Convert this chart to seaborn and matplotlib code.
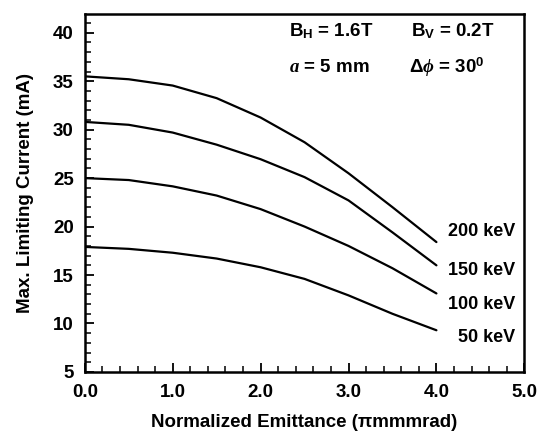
import numpy as np
import pandas as pd
import matplotlib
matplotlib.use("Agg")
import matplotlib.pyplot as plt
from matplotlib.ticker import MultipleLocator, FormatStrFormatter
import seaborn as sns

# ---- data ----
emittance = [0.0, 0.5, 1.0, 1.5, 2.0, 2.5, 3.0, 3.5, 4.0]
current_200keV = [35.5, 35.2, 34.55, 33.25, 31.25, 28.7, 25.5, 22.0, 18.4]
current_150keV = [30.8, 30.5, 29.7, 28.45, 26.95, 25.1, 22.7, 19.4, 16.0]
current_100keV = [25.0, 24.8, 24.15, 23.2, 21.8, 20.0, 18.0, 15.7, 13.1]
current_50keV = [17.9, 17.7, 17.3, 16.7, 15.8, 14.6, 12.9, 11.0, 9.3]
energy_labels = ["200 keV", "150 keV", "100 keV", "50 keV"]
x_ticks = [0.0, 1.0, 2.0, 3.0, 4.0, 5.0]
y_ticks = [5, 10, 15, 20, 25, 30, 35, 40]

series = [current_200keV, current_150keV, current_100keV, current_50keV]
df = pd.concat(
    [pd.DataFrame({"x": emittance, "y": s, "E": lab}) for s, lab in zip(series, energy_labels)],
    ignore_index=True,
)

sns.set_theme(style="ticks")
plt.rcParams["font.family"] = ["Liberation Sans", "DejaVu Sans"]
plt.rcParams["text.color"] = "black"
plt.rcParams["axes.labelcolor"] = "black"
plt.rcParams["xtick.color"] = "black"
plt.rcParams["ytick.color"] = "black"
plt.rcParams["mathtext.fontset"] = "custom"
plt.rcParams["mathtext.rm"] = "Liberation Sans:bold"
plt.rcParams["mathtext.bf"] = "Liberation Sans:bold"
plt.rcParams["mathtext.it"] = "Liberation Serif:italic:bold"
plt.rcParams["mathtext.fallback"] = "stix"

fig = plt.figure(figsize=(5.4, 4.34), dpi=100)
ax = fig.add_axes([0.157, 0.143, 0.814, 0.824])

sns.lineplot(data=df, x="x", y="y", hue="E", palette=["black"] * 4,
             estimator=None, sort=False, legend=False, linewidth=1.6, ax=ax)

ax.set_xlim(0, 5)
ax.set_ylim(5, 41.9)
ax.set_xticks(x_ticks)
ax.set_yticks(y_ticks)
ax.xaxis.set_minor_locator(MultipleLocator(0.2))
ax.yaxis.set_minor_locator(MultipleLocator(1))
ax.xaxis.set_major_formatter(FormatStrFormatter("%.1f"))

for sp in ax.spines.values():
    sp.set_visible(True)
    sp.set_linewidth(1.8)
    sp.set_color("black")

ax.tick_params(which="both", direction="in", top=False, right=False, colors="black")
ax.tick_params(which="major", length=6.5, width=1.3)
ax.tick_params(which="minor", length=4, width=1.1)
ax.tick_params(axis="x", which="major", pad=8.5)
ax.tick_params(axis="y", which="major", pad=8)
for lab in ax.get_xticklabels() + ax.get_yticklabels():
    lab.set_fontsize(13.5)
    lab.set_fontweight("bold")
    lab.set_color("black")

ax.set_xlabel("Normalized Emittance (πmmmrad)", fontsize=13.5, fontweight="bold", color="black")
ax.set_ylabel("Max. Limiting Current (mA)", fontsize=13.5, fontweight="bold", color="black")
ax.yaxis.label.set_va("center")
ax.xaxis.label.set_va("center")
ax.xaxis.set_label_coords(0.5, -0.142)
ax.yaxis.set_label_coords(-0.135, 0.5)

label_y = [19.5, 15.5, 12.0, 8.6]
for lab, yv in zip(energy_labels, label_y):
    ax.text(4.90, yv, lab, ha="right", va="center", fontsize=13, fontweight="bold", color="black")

tkw = dict(transform=ax.transAxes, fontsize=13.5, fontweight="bold", va="center", ha="left", color="black")
ax.text(0.464, 0.952, r"B$_\mathrm{H}$ = 1.6T", **tkw)
ax.text(0.743, 0.952, r"B$_\mathrm{V}$ = 0.2T", **tkw)
ax.text(0.464, 0.851, r"$a$ = 5 mm", **tkw)
ax.text(0.737, 0.851, r"$\Delta\phi$ = 30$^\mathrm{0}$", **tkw)

fig.savefig("out.png", dpi=100, facecolor="white")
